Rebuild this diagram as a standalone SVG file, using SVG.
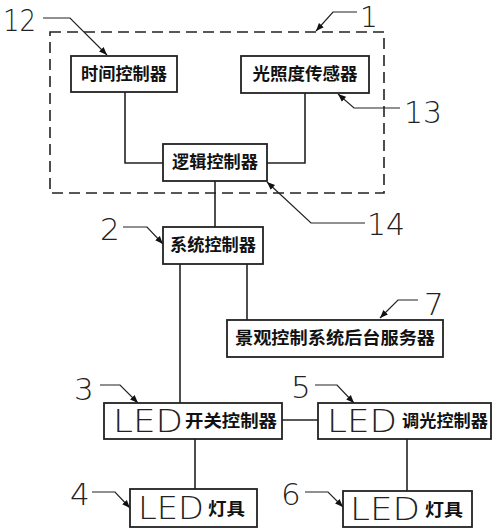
<svg xmlns="http://www.w3.org/2000/svg" width="500" height="530" viewBox="0 0 500 530">
<style>
.box{fill:#fff;stroke:#222;stroke-width:1.8}
.ln{fill:none;stroke:#222;stroke-width:1.6}
.ld{fill:none;stroke:#222;stroke-width:1.2}
.cn{font-family:"Noto Sans CJK SC","Noto Sans CJK JP",sans-serif;font-size:17px;font-weight:700;fill:#111}
.led{font-family:"DejaVu Sans","Liberation Sans",sans-serif;font-weight:200;font-size:32px;fill:#222}
.num{font-family:"DejaVu Sans","Liberation Sans",sans-serif;font-weight:200;font-size:31px;fill:#222}
</style>
<defs>
<marker id="ah" viewBox="0 0 10 10" refX="10" refY="5" markerWidth="8" markerHeight="8" orient="auto" markerUnits="userSpaceOnUse">
<path d="M0,1 L10,5 L0,9 z" fill="#111"/>
</marker>
</defs>
<rect x="0" y="0" width="500" height="530" fill="#fff"/>
<g id="group1">
<rect x="50" y="32" width="334" height="161" fill="none" stroke="#222" stroke-width="1.6" stroke-dasharray="11,6"/>
</g>
<g id="connectors">
<polyline class="ln" points="125,92 125,163 163,163"/>
<polyline class="ln" points="305,93 305,163 267,163"/>
<line class="ln" x1="215" y1="181" x2="215" y2="227"/>
<line class="ln" x1="180" y1="264" x2="180" y2="403"/>
<line class="ln" x1="247" y1="264" x2="247" y2="320"/>
<line class="ln" x1="282" y1="420" x2="318" y2="420"/>
<line class="ln" x1="195" y1="439" x2="195" y2="489"/>
<line class="ln" x1="407" y1="439" x2="407" y2="491"/>
</g>
<g id="leaders">
<polyline class="ld" points="43,18 70,18 107,55" marker-end="url(#ah)"/>
<polyline class="ld" points="357,12 333,12 316,31" marker-end="url(#ah)"/>
<polyline class="ld" points="400,108 354,108 338,94" marker-end="url(#ah)"/>
<polyline class="ld" points="365,223 311,223 267,182" marker-end="url(#ah)"/>
<polyline class="ld" points="123,227 147,227 163,244" marker-end="url(#ah)"/>
<polyline class="ld" points="418,300 398,300 380,318" marker-end="url(#ah)"/>
<polyline class="ld" points="100,385 120,385 138,403" marker-end="url(#ah)"/>
<polyline class="ld" points="315,385 337,385 354,403" marker-end="url(#ah)"/>
<polyline class="ld" points="92,492 115,492 130,508" marker-end="url(#ah)"/>
<polyline class="ld" points="305,492 328,492 343,507" marker-end="url(#ah)"/>
</g>
<g id="labels">
<text class="num" x="3" y="31" textLength="33" lengthAdjust="spacingAndGlyphs">12</text>
<text class="num" x="360" y="27" style="font-size:28px">1</text>
<text class="num" x="404" y="123" textLength="38" lengthAdjust="spacingAndGlyphs">13</text>
<text class="num" x="367" y="235" textLength="38" lengthAdjust="spacingAndGlyphs">14</text>
<text class="num" x="100" y="240">2</text>
<text class="num" x="424" y="315">7</text>
<text class="num" x="74" y="400">3</text>
<text class="num" x="291" y="398">5</text>
<text class="num" x="70" y="505">4</text>
<text class="num" x="281" y="505">6</text>
</g>
<g id="n12">
<rect class="box" x="71" y="56" width="106" height="36"/>
<text class="cn" x="124" y="80" text-anchor="middle" textLength="86" lengthAdjust="spacingAndGlyphs">时间控制器</text>
</g>
<g id="n13">
<rect class="box" x="241" y="56" width="128" height="37"/>
<text class="cn" x="305" y="80" text-anchor="middle" textLength="105" lengthAdjust="spacingAndGlyphs">光照度传感器</text>
</g>
<g id="n14">
<rect class="box" x="163" y="144" width="104" height="37"/>
<text class="cn" x="215" y="168" text-anchor="middle" textLength="86" lengthAdjust="spacingAndGlyphs">逻辑控制器</text>
</g>
<g id="n2">
<rect class="box" x="163" y="227" width="100" height="37"/>
<text class="cn" x="213" y="251" text-anchor="middle" textLength="86" lengthAdjust="spacingAndGlyphs">系统控制器</text>
</g>
<g id="n7">
<rect class="box" x="227" y="320" width="216" height="37"/>
<text class="cn" x="335" y="344" text-anchor="middle" textLength="200" lengthAdjust="spacingAndGlyphs">景观控制系统后台服务器</text>
</g>
<g id="n3">
<rect class="box" x="104" y="403" width="178" height="36"/>
<text class="led" x="113" y="432" textLength="70" lengthAdjust="spacingAndGlyphs">LED</text>
<text class="cn" x="185" y="427" textLength="92" lengthAdjust="spacingAndGlyphs">开关控制器</text>
</g>
<g id="n5">
<rect class="box" x="318" y="403" width="173" height="36"/>
<text class="led" x="327" y="432" textLength="70" lengthAdjust="spacingAndGlyphs">LED</text>
<text class="cn" x="402" y="427" textLength="86" lengthAdjust="spacingAndGlyphs">调光控制器</text>
</g>
<g id="n4">
<rect class="box" x="130" y="489" width="127" height="38"/>
<text class="led" x="138" y="519" textLength="66" lengthAdjust="spacingAndGlyphs">LED</text>
<text class="cn" x="208" y="515" textLength="37" lengthAdjust="spacingAndGlyphs">灯具</text>
</g>
<g id="n6">
<rect class="box" x="343" y="491" width="129" height="36"/>
<text class="led" x="350" y="520" textLength="70" lengthAdjust="spacingAndGlyphs">LED</text>
<text class="cn" x="425" y="516" textLength="38" lengthAdjust="spacingAndGlyphs">灯具</text>
</g>
</svg>
